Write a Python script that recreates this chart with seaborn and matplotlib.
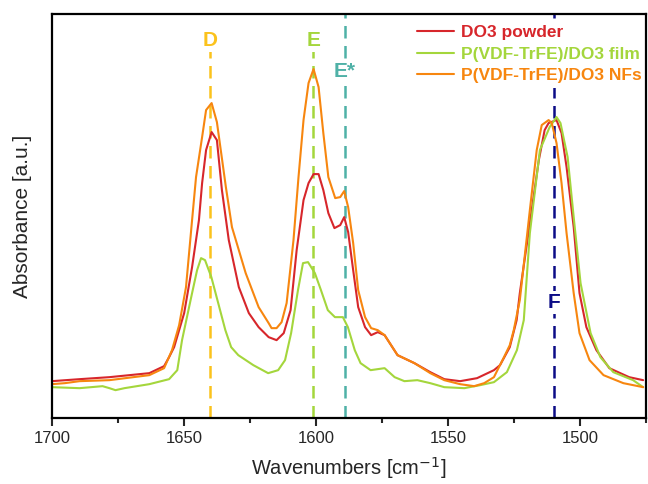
import matplotlib

matplotlib.use("Agg")

import matplotlib.pyplot as plt
import numpy as np
import pandas as pd
import seaborn as sns
from matplotlib.ticker import MultipleLocator


# Spectra (wavenumber in cm^-1, absorbance in arbitrary units)
powder_wn = [1700.0, 1689.5, 1678.2, 1663.1, 1657.5, 1655.6, 1653.7, 1651.8, 1649.9, 1646.9,
             1644.3, 1643.1, 1641.6, 1639.5, 1637.5, 1635.6, 1633.0, 1629.2, 1625.4, 1621.7,
             1617.9, 1614.9, 1612.2, 1609.6, 1607.3, 1604.7, 1602.8, 1600.9, 1599.0, 1597.2,
             1595.3, 1593.0, 1590.8, 1589.3, 1587.8, 1585.9, 1584.0, 1581.4, 1579.1, 1576.6,
             1574.0, 1569.1, 1562.7, 1556.7, 1551.4, 1545.4, 1539.0, 1532.6, 1530.3, 1526.6,
             1524.0, 1522.8, 1519.0, 1515.6, 1513.4, 1511.9, 1508.9, 1507.0, 1505.1, 1502.4,
             1500.2, 1497.6, 1493.8, 1488.9, 1481.4, 1476.1]
powder_abs = [0.37, 0.39, 0.41, 0.45, 0.52, 0.61, 0.71, 0.88, 1.05, 1.51, 1.98, 2.35, 2.68, 2.86,
              2.78, 2.28, 1.78, 1.31, 1.05, 0.91, 0.81, 0.78, 0.85, 1.08, 1.68, 2.18, 2.35, 2.44,
              2.44, 2.28, 2.05, 1.90, 1.93, 2.01, 1.86, 1.48, 1.11, 0.91, 0.83, 0.86, 0.83, 0.63,
              0.55, 0.46, 0.39, 0.37, 0.40, 0.48, 0.53, 0.71, 0.98, 1.25, 1.95, 2.58, 2.88, 2.95,
              2.98, 2.85, 2.51, 1.91, 1.25, 0.91, 0.68, 0.50, 0.41, 0.38]

film_wn = [1700.0, 1689.5, 1680.8, 1678.2, 1675.9, 1672.5, 1663.1, 1655.6, 1652.5, 1650.7,
           1646.9, 1645.0, 1643.5, 1642.0, 1639.6, 1637.0, 1634.3, 1632.1, 1629.4, 1623.7,
           1618.1, 1614.3, 1611.7, 1609.4, 1606.8, 1604.9, 1603.0, 1600.4, 1598.1, 1595.5,
           1592.8, 1589.8, 1587.9, 1585.3, 1583.1, 1579.3, 1574.0, 1570.2, 1566.5, 1561.6,
           1556.7, 1551.4, 1543.8, 1537.8, 1532.6, 1527.7, 1523.9, 1521.3, 1519.0, 1515.2,
           1511.5, 1508.9, 1507.4, 1504.7, 1502.4, 1499.8, 1496.0, 1492.3, 1487.4, 1479.9,
           1476.1]
film_abs = [0.31, 0.30, 0.32, 0.30, 0.28, 0.30, 0.34, 0.39, 0.48, 0.78, 1.25, 1.48, 1.60, 1.58,
            1.41, 1.15, 0.88, 0.71, 0.63, 0.53, 0.45, 0.48, 0.58, 0.85, 1.28, 1.55, 1.56, 1.45,
            1.28, 1.08, 1.01, 1.01, 0.91, 0.68, 0.55, 0.48, 0.50, 0.41, 0.37, 0.38, 0.35, 0.31,
            0.30, 0.33, 0.36, 0.46, 0.68, 0.98, 1.85, 2.68, 2.91, 3.01, 2.95, 2.61, 2.01, 1.35,
            0.85, 0.61, 0.46, 0.38, 0.31]

nfs_wn = [1700.0, 1695.1, 1689.5, 1678.2, 1663.1, 1657.5, 1654.5, 1651.8, 1649.2, 1646.9,
          1645.4, 1643.1, 1641.6, 1639.5, 1637.5, 1634.1, 1631.8, 1626.6, 1621.7, 1617.9,
          1616.8, 1614.9, 1613.0, 1611.1, 1608.5, 1606.6, 1604.7, 1602.8, 1600.9, 1599.0,
          1597.2, 1595.3, 1592.7, 1590.8, 1589.3, 1587.8, 1585.9, 1584.0, 1581.4, 1579.1,
          1576.6, 1574.0, 1569.1, 1562.7, 1556.7, 1551.4, 1545.4, 1540.1, 1536.3, 1532.6,
          1528.8, 1526.6, 1525.1, 1522.8, 1519.0, 1516.4, 1514.5, 1511.9, 1510.7, 1508.9,
          1507.0, 1505.1, 1502.4, 1500.2, 1496.4, 1491.1, 1483.6, 1476.1]
nfs_abs = [0.34, 0.35, 0.37, 0.38, 0.43, 0.50, 0.68, 0.93, 1.31, 1.98, 2.41, 2.81, 3.08, 3.15,
           2.96, 2.31, 1.91, 1.45, 1.11, 0.95, 0.90, 0.90, 0.96, 1.15, 1.78, 2.41, 2.98, 3.35,
           3.49, 3.31, 2.85, 2.41, 2.20, 2.21, 2.27, 2.11, 1.75, 1.28, 1.01, 0.90, 0.88, 0.83,
           0.63, 0.55, 0.45, 0.38, 0.34, 0.32, 0.35, 0.41, 0.61, 0.73, 0.88, 1.18, 2.08, 2.68,
           2.93, 2.98, 2.95, 2.75, 2.35, 1.85, 1.25, 0.85, 0.58, 0.43, 0.35, 0.31]

series_names = ["DO3 powder", "P(VDF-TrFE)/DO3 film", "P(VDF-TrFE)/DO3 NFs"]
series_colors = ["#d7262b", "#a4d63c", "#f7860f"]

band_labels = ["D", "E", "E*", "F"]
band_positions = [1640, 1601, 1589, 1510]
band_colors = ["#fbc21c", "#a4d63c", "#4fb1a7", "#0c0c86"]


def main():
    sns.set_style("white")
    plt.rcParams["font.family"] = ["Liberation Sans", "DejaVu Sans"]

    df = pd.concat([
        pd.DataFrame({"wn": powder_wn, "absorbance": powder_abs, "sample": series_names[0]}),
        pd.DataFrame({"wn": film_wn, "absorbance": film_abs, "sample": series_names[1]}),
        pd.DataFrame({"wn": nfs_wn, "absorbance": nfs_abs, "sample": series_names[2]}),
    ])

    fig = plt.figure(figsize=(6.48, 4.84), dpi=100)
    ax = fig.add_axes([0.080, 0.136, 0.917, 0.835])

    # dashed band markers first so the spectra sit on top;
    # D and E stop just below their letters
    line_tops = [0.91, 0.91, 1.0, 1.0]
    for pos, color, top in zip(band_positions, band_colors, line_tops):
        ax.axvline(pos, ymax=top, color=color, linestyle=(0, (5, 3)), linewidth=1.8, zorder=1)

    sns.lineplot(data=df, x="wn", y="absorbance", hue="sample", palette=series_colors,
                 hue_order=series_names, linewidth=1.5, ax=ax, zorder=3, legend=False)

    label_y = [3.78, 3.78, 3.47, 1.16]
    for label, pos, color, ly in zip(band_labels, band_positions, band_colors, label_y):
        ax.text(pos, ly, label, color=color, fontsize=15, fontweight="bold",
                ha="center", va="center", zorder=2,
                bbox=dict(facecolor="white", edgecolor="none", pad=1.5))

    # opaque legend box hides the top of the F marker, as in the original
    handles = [plt.Line2D([], [], color=c, linewidth=1.5) for c in series_colors]
    leg = ax.legend(handles, series_names, loc="upper right", frameon=True,
                    facecolor="white", edgecolor="none", framealpha=1.0, fancybox=False,
                    bbox_to_anchor=(1.005, 0.99), borderpad=0.3,
                    handlelength=2.1, handletextpad=0.45, labelspacing=0.36,
                    borderaxespad=0.1, prop={"weight": "bold", "size": 12.5})
    leg.set_zorder(2)
    for text, c in zip(leg.get_texts(), series_colors):
        text.set_color(c)

    ax.set_xlim(1700, 1475)
    ax.set_ylim(0, 4.04)
    ax.xaxis.set_major_locator(MultipleLocator(50))
    ax.xaxis.set_minor_locator(MultipleLocator(25))
    ax.set_yticks([])
    ax.tick_params(axis="x", which="major", direction="out", length=6, width=1.5,
                   labelsize=12, bottom=True)
    ax.tick_params(axis="x", which="minor", direction="out", length=3.5, width=1.5, bottom=True)

    ax.set_xlabel("Wavenumbers [cm$^{-1}$]", fontsize=14.5, labelpad=6)
    ax.set_ylabel("Absorbance [a.u.]", fontsize=15, labelpad=14)

    for spine in ax.spines.values():
        spine.set_visible(True)
        spine.set_color("black")
        spine.set_linewidth(1.6)
        spine.set_zorder(4)

    fig.savefig("out.png", dpi=100)
    plt.close(fig)


if __name__ == "__main__":
    main()
